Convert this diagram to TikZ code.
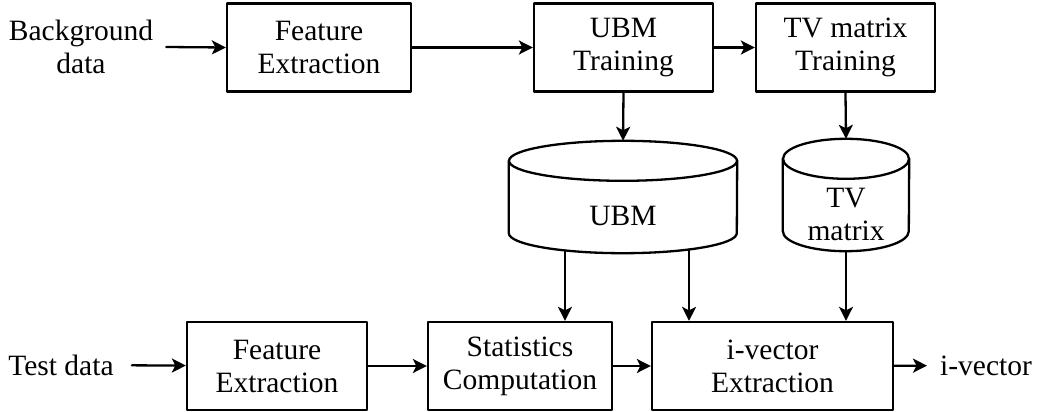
\documentclass[tikz,border=0pt]{standalone}
\usepackage{fontspec}
\setmainfont{Liberation Serif}
\usetikzlibrary{arrows.meta}
\usetikzlibrary{calc}

\begin{document}
\begin{tikzpicture}[line cap=round,line join=round,x=1pt,y=1pt,
    font=\fontsize{29.5}{33}\selectfont,
    blk/.style={draw,line width=2.3pt,minimum height=88,inner sep=0pt,align=center},
    arr/.style={-{Stealth[length=14pt,width=14pt,inset=3.5pt]},line width=2.3pt}]
  \useasboundingbox (0,0) rectangle (1039,-412);
  % training chain
  \node (bg) [align=center,inner sep=13pt] at (81,-47) {Background\\data};
  \node (fe1) [blk,minimum width=184] at (319,-47.5) {Feature\\Extraction};
  \node (ubmt) [blk,minimum width=179] at (623.5,-47.5) {UBM\\Training};
  \node (tvt) [blk,minimum width=179] at (845.5,-47.5) {TV matrix\\Training};
  % models (cylinders)
  \node (ubm) [minimum width=228,minimum height=112,inner sep=0pt] at (623,-197) {};
  \node (tvm) [minimum width=126,minimum height=112,inner sep=0pt] at (846,-195) {};
  \foreach \cyl/\rad in {ubm/114,tvm/63}{
    \draw[line width=2.3pt] ($(\cyl.north)+(0,-20)$) ellipse (\rad pt and 20pt);
    \draw[line width=2.3pt] ($(\cyl.north west)+(0,-20)$) -- ($(\cyl.south west)+(0,20)$)
      arc (180:360:\rad pt and 20pt) -- ($(\cyl.north east)+(0,-20)$);
  }
  \node (ubmlbl) at ($(ubm.center)+(0,-19)$) {UBM};
  \node (tvmlbl) [align=center] at ($(tvm.center)+(0,-19.5)$) {TV\\matrix};
  % test chain
  \node (test) [inner sep=18pt] at (61,-365) {Test data};
  \node (fe2) [blk,minimum width=180] at (277,-366) {Feature\\Extraction};
  \node (stats) [blk,minimum width=184] at (520,-366) {Statistics\\Computation};
  \node (ivec) [blk,minimum width=241] at (772.5,-366) {i-vector\\Extraction};
  \node (out) [anchor=west,inner sep=13pt] at (927,-365.5) {i-vector};
  \coordinate (ubmL) at ($(ubm.south)+(0,20)+(239.4:114pt and 20pt)$);
  \coordinate (ubmR) at ($(ubm.south)+(0,20)+(305.4:114pt and 20pt)$);
  % connectors
  \draw[arr] (bg.east) -- (fe1.west);
  \draw[arr] (fe1) -- (ubmt);
  \draw[arr] (ubmt) -- (tvt);
  \draw[arr] (ubmt.south) -- (ubm.north);
  \draw[arr] (tvt.south) -- (tvm.north);
  \draw[arr] (test) -- (fe2);
  \draw[arr] (fe2) -- (stats);
  \draw[arr] (stats) -- (ivec);
  \draw[arr] (ivec) -- (out);
  \draw[arr] (ubmL) -- (ubmL |- stats.north);
  \draw[arr] (ubmR) -- (ubmR |- ivec.north);
  \draw[arr] (tvm.south) -- (tvm.south |- ivec.north);
\end{tikzpicture}
\end{document}
